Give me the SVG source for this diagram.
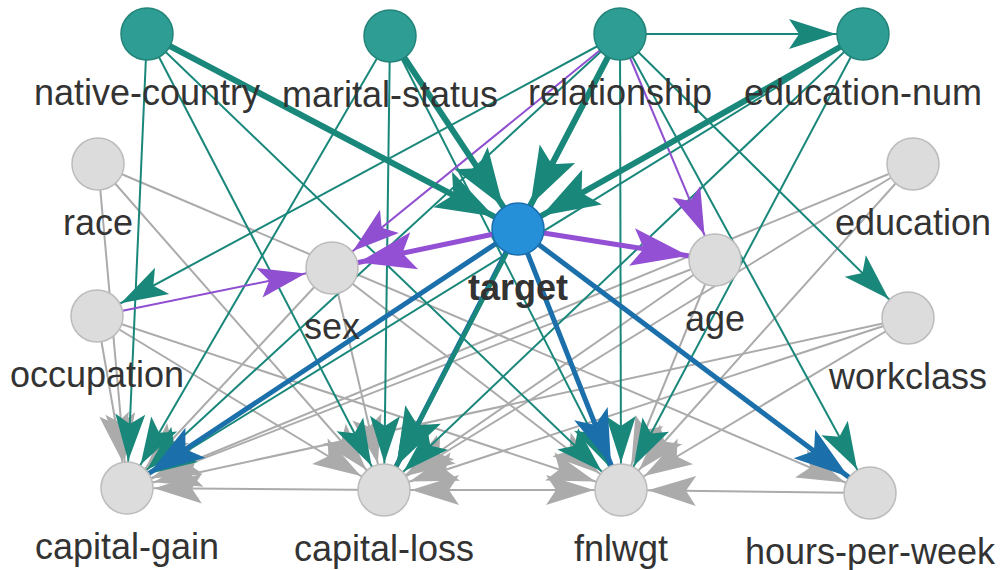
<svg xmlns="http://www.w3.org/2000/svg" width="1002" height="570" viewBox="0 0 1002 570">
<style>
.g{stroke:#ababab;stroke-width:2;fill:none}
.t{stroke:#1a877b;stroke-width:2;fill:none}
.T{stroke:#1a877b;stroke-width:6;fill:none}
.T4{stroke:#1a877b;stroke-width:4.5;fill:none}
.p{stroke:#8f4fd0;stroke-width:2;fill:none}
.P{stroke:#9450d4;stroke-width:5;fill:none}
.B{stroke:#1b6fab;stroke-width:5;fill:none}
.nt{fill:#2e9e94;stroke:#23847a;stroke-width:1.5}
.ng{fill:#dcdcdc;stroke:#bcbcbc;stroke-width:1.5}
.nb{fill:#2590d8;stroke:#1b6fae;stroke-width:1.5}
text{font-family:"Liberation Sans",Arial,sans-serif;font-size:36px;fill:#333333;text-anchor:middle}
.bold{font-weight:bold}
</style>
<defs>
<marker id="ag" markerUnits="userSpaceOnUse" orient="auto" overflow="visible" refX="0" refY="0" markerWidth="1" markerHeight="1"><path d="M-27,0 L-75,-15 L-65,0 L-75,15 Z" fill="#ababab"/></marker>
<marker id="at" markerUnits="userSpaceOnUse" orient="auto" overflow="visible" refX="0" refY="0" markerWidth="1" markerHeight="1"><path d="M-27,0 L-74,-15 L-64,0 L-74,15 Z" fill="#1a877b"/></marker>
<marker id="aT" markerUnits="userSpaceOnUse" orient="auto" overflow="visible" refX="0" refY="0" markerWidth="1" markerHeight="1"><path d="M-27,0 L-85,-20 L-73,0 L-85,20 Z" fill="#1a877b"/></marker>
<marker id="ap" markerUnits="userSpaceOnUse" orient="auto" overflow="visible" refX="0" refY="0" markerWidth="1" markerHeight="1"><path d="M-27,0 L-74,-15 L-64,0 L-74,15 Z" fill="#8f4fd0"/></marker>
<marker id="aP" markerUnits="userSpaceOnUse" orient="auto" overflow="visible" refX="0" refY="0" markerWidth="1" markerHeight="1"><path d="M-27,0 L-84,-19 L-72,0 L-84,19 Z" fill="#9450d4"/></marker>
<marker id="aB" markerUnits="userSpaceOnUse" orient="auto" overflow="visible" refX="0" refY="0" markerWidth="1" markerHeight="1"><path d="M-27,0 L-82,-18 L-70,0 L-82,18 Z" fill="#1b6fab"/></marker>
</defs>
<g id="edges">
<g marker-end="url(#ag)">
<line class="g" x1="98" y1="164" x2="127" y2="488"/>
<line class="g" x1="98" y1="164" x2="384" y2="490"/>
<line class="g" x1="98" y1="164" x2="870" y2="493"/>
<line class="g" x1="97" y1="316" x2="127" y2="488"/>
<line class="g" x1="97" y1="316" x2="384" y2="490"/>
<line class="g" x1="97" y1="316" x2="621" y2="490"/>
<line class="g" x1="332" y1="268" x2="127" y2="488"/>
<line class="g" x1="332" y1="268" x2="384" y2="490"/>
<line class="g" x1="332" y1="268" x2="621" y2="490"/>
<line class="g" x1="715" y1="260" x2="127" y2="488"/>
<line class="g" x1="715" y1="260" x2="384" y2="490"/>
<line class="g" x1="715" y1="260" x2="621" y2="490"/>
<line class="g" x1="913" y1="164" x2="127" y2="488"/>
<line class="g" x1="913" y1="164" x2="384" y2="490"/>
<line class="g" x1="913" y1="164" x2="621" y2="490"/>
<line class="g" x1="908" y1="318" x2="127" y2="488"/>
<line class="g" x1="908" y1="318" x2="384" y2="490"/>
<line class="g" x1="908" y1="318" x2="621" y2="490"/>
<line class="g" x1="384" y1="490" x2="127" y2="488"/>
<line class="g" x1="621" y1="490" x2="384" y2="490"/>
<line class="g" x1="384" y1="490" x2="621" y2="490"/>
<line class="g" x1="870" y1="493" x2="621" y2="490"/>
</g>
<g marker-end="url(#at)">
<line class="t" x1="620" y1="34" x2="863" y2="34"/>
<line class="t" x1="620" y1="34" x2="97" y2="316"/>
<line class="t" x1="620" y1="34" x2="908" y2="318"/>
<line class="t" x1="620" y1="34" x2="127" y2="488"/>
<line class="t" x1="620" y1="34" x2="621" y2="490"/>
<line class="t" x1="620" y1="34" x2="870" y2="493"/>
<line class="t" x1="147" y1="34" x2="127" y2="488"/>
<line class="t" x1="147" y1="34" x2="384" y2="490"/>
<line class="t" x1="147" y1="34" x2="621" y2="490"/>
<line class="t" x1="390" y1="36" x2="127" y2="488"/>
<line class="t" x1="390" y1="36" x2="384" y2="490"/>
<line class="t" x1="390" y1="36" x2="621" y2="490"/>
<line class="t" x1="863" y1="34" x2="127" y2="488"/>
<line class="t" x1="863" y1="34" x2="384" y2="490"/>
<line class="t" x1="863" y1="34" x2="621" y2="490"/>
</g>
<g marker-end="url(#ap)">
<line class="p" x1="97" y1="316" x2="332" y2="268"/>
<line class="p" x1="620" y1="34" x2="332" y2="268"/>
<line class="p" x1="620" y1="34" x2="715" y2="260"/>
</g>
<g marker-end="url(#aB)">
<line class="B" x1="518" y1="229" x2="127" y2="488"/>
<line class="B" x1="518" y1="229" x2="384" y2="490"/>
<line class="B" x1="518" y1="229" x2="621" y2="490"/>
<line class="B" x1="518" y1="229" x2="870" y2="493"/>
</g>
<g marker-end="url(#aT)">
<line class="T4" x1="620" y1="34" x2="384" y2="490"/>
<line class="T" x1="147" y1="34" x2="518" y2="229"/>
<line class="T" x1="390" y1="36" x2="518" y2="229"/>
<line class="T" x1="620" y1="34" x2="518" y2="229"/>
<line class="T" x1="863" y1="34" x2="518" y2="229"/>
</g>
<g marker-end="url(#aP)">
<line class="P" x1="518" y1="229" x2="332" y2="268"/>
<line class="P" x1="518" y1="229" x2="715" y2="260"/>
</g>
</g>
<g id="node-native-country"><circle class="nt" cx="147" cy="34" r="26"/><text x="147" y="105">native-country</text></g>
<g id="node-marital-status"><circle class="nt" cx="390" cy="36" r="26"/><text x="390" y="107">marital-status</text></g>
<g id="node-relationship"><circle class="nt" cx="620" cy="34" r="26"/><text x="620" y="105">relationship</text></g>
<g id="node-education-num"><circle class="nt" cx="863" cy="34" r="26"/><text x="863" y="105">education-num</text></g>
<g id="node-race"><circle class="ng" cx="98" cy="164" r="26"/><text x="98" y="235">race</text></g>
<g id="node-education"><circle class="ng" cx="913" cy="164" r="26"/><text x="913" y="235">education</text></g>
<g id="node-sex"><circle class="ng" cx="332" cy="268" r="26"/><text x="332" y="339">sex</text></g>
<g id="node-target"><circle class="nb" cx="518" cy="229" r="26"/><text class="bold" x="518" y="300">target</text></g>
<g id="node-age"><circle class="ng" cx="715" cy="260" r="26"/><text x="715" y="331">age</text></g>
<g id="node-occupation"><circle class="ng" cx="97" cy="316" r="26"/><text x="97" y="387">occupation</text></g>
<g id="node-workclass"><circle class="ng" cx="908" cy="318" r="26"/><text x="908" y="389">workclass</text></g>
<g id="node-capital-gain"><circle class="ng" cx="127" cy="488" r="26"/><text x="127" y="559">capital-gain</text></g>
<g id="node-capital-loss"><circle class="ng" cx="384" cy="490" r="26"/><text x="384" y="561">capital-loss</text></g>
<g id="node-fnlwgt"><circle class="ng" cx="621" cy="490" r="26"/><text x="621" y="561">fnlwgt</text></g>
<g id="node-hours-per-week"><circle class="ng" cx="870" cy="493" r="26"/><text x="870" y="564">hours-per-week</text></g>
</svg>
